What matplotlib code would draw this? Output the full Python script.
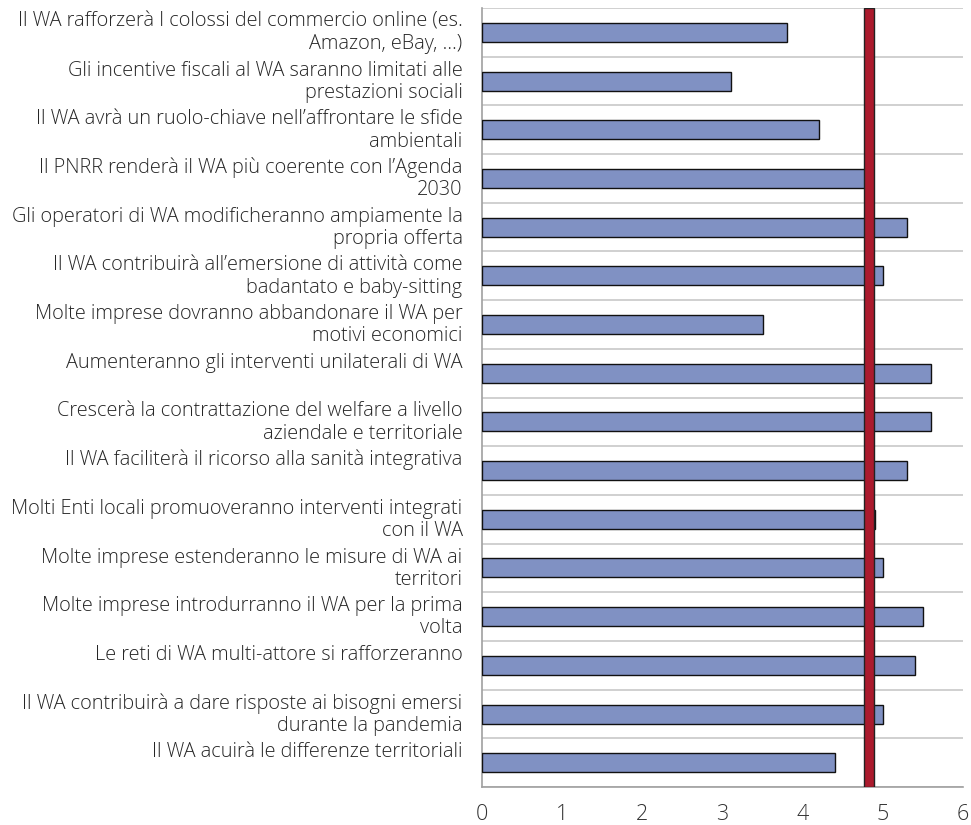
import numpy as np
import matplotlib
matplotlib.use("Agg")
import matplotlib.pyplot as plt

plt.rcParams['font.family'] = ['Open Sans', 'DejaVu Sans']

etichette = [
    "Il WA rafforzerà I colossi del commercio online (es.\nAmazon, eBay, \u2026)",
    "Gli incentive fiscali al WA saranno limitati alle\nprestazioni sociali",
    "Il WA avrà un ruolo-chiave nell\u2019affrontare le sfide\nambientali",
    "Il PNRR renderà il WA più coerente con l\u2019Agenda\n2030",
    "Gli operatori di WA modificheranno ampiamente la\npropria offerta",
    "Il WA contribuirà all\u2019emersione di attività come\nbadantato e baby-sitting",
    "Molte imprese dovranno abbandonare il WA per\nmotivi economici",
    "Aumenteranno gli interventi unilaterali di WA",
    "Crescerà la contrattazione del welfare a livello\naziendale e territoriale",
    "Il WA faciliterà il ricorso alla sanità integrativa",
    "Molti Enti locali promuoveranno interventi integrati\ncon il WA",
    "Molte imprese estenderanno le misure di WA ai\nterritori",
    "Molte imprese introdurranno il WA per la prima\nvolta",
    "Le reti di WA multi-attore si rafforzeranno",
    "Il WA contribuirà a dare risposte ai bisogni emersi\ndurante la pandemia",
    "Il WA acuirà le differenze territoriali",
]
valori = [3.8, 3.1, 4.2, 4.8, 5.3, 5.0, 3.5, 5.6, 5.6, 5.3, 4.9, 5.0, 5.5, 5.4, 5.0, 4.4]
media = 4.83
xticks = [0, 1, 2, 3, 4, 5, 6]

fig = plt.figure(figsize=(9.71, 8.25), dpi=100)
ax = fig.add_axes([0.4964, 0.046, 0.4954, 0.9443])

y = np.arange(len(valori))
ax.barh(y, valori, height=0.39, color='#8091c3', edgecolor='#111111', linewidth=1, zorder=3)
ax.axvspan(media - 0.06, media + 0.06, color='#ab1a2d', ec='#222222', lw=1, zorder=4)

ax.set_xlim(0, 6)
ax.set_ylim(len(valori) - 0.5, -0.5)
ax.set_xticks(xticks)
ax.set_yticks(np.arange(len(valori) + 1) - 0.5)
ax.set_yticklabels([])
ax.tick_params(axis='both', length=0)
ax.tick_params(axis='x', labelsize=15.5, labelcolor='#333333', pad=12)
for t in ax.get_xticklabels():
    t.set_fontweight('light')
ax.grid(axis='y', color='#c8c8c8', lw=1.2, zorder=0)
for s in ['top', 'right']:
    ax.spines[s].set_visible(False)
for s in ['left', 'bottom']:
    ax.spines[s].set_color('#a0a0a0')
    ax.spines[s].set_linewidth(1.2)

# etichette su due righe, la prima sopra il centro della fascia
for i, lab in enumerate(etichette):
    righe = lab.split("\n")
    for k, riga in enumerate(righe):
        ax.annotate(riga, xy=(0, i), xycoords=('axes fraction', 'data'),
                    xytext=(-14, 7.5 - 16 * k), textcoords='offset points',
                    ha='right', va='center', fontsize=14.3, fontweight='light',
                    color='#262626')

fig.savefig("out.png", dpi=100)
